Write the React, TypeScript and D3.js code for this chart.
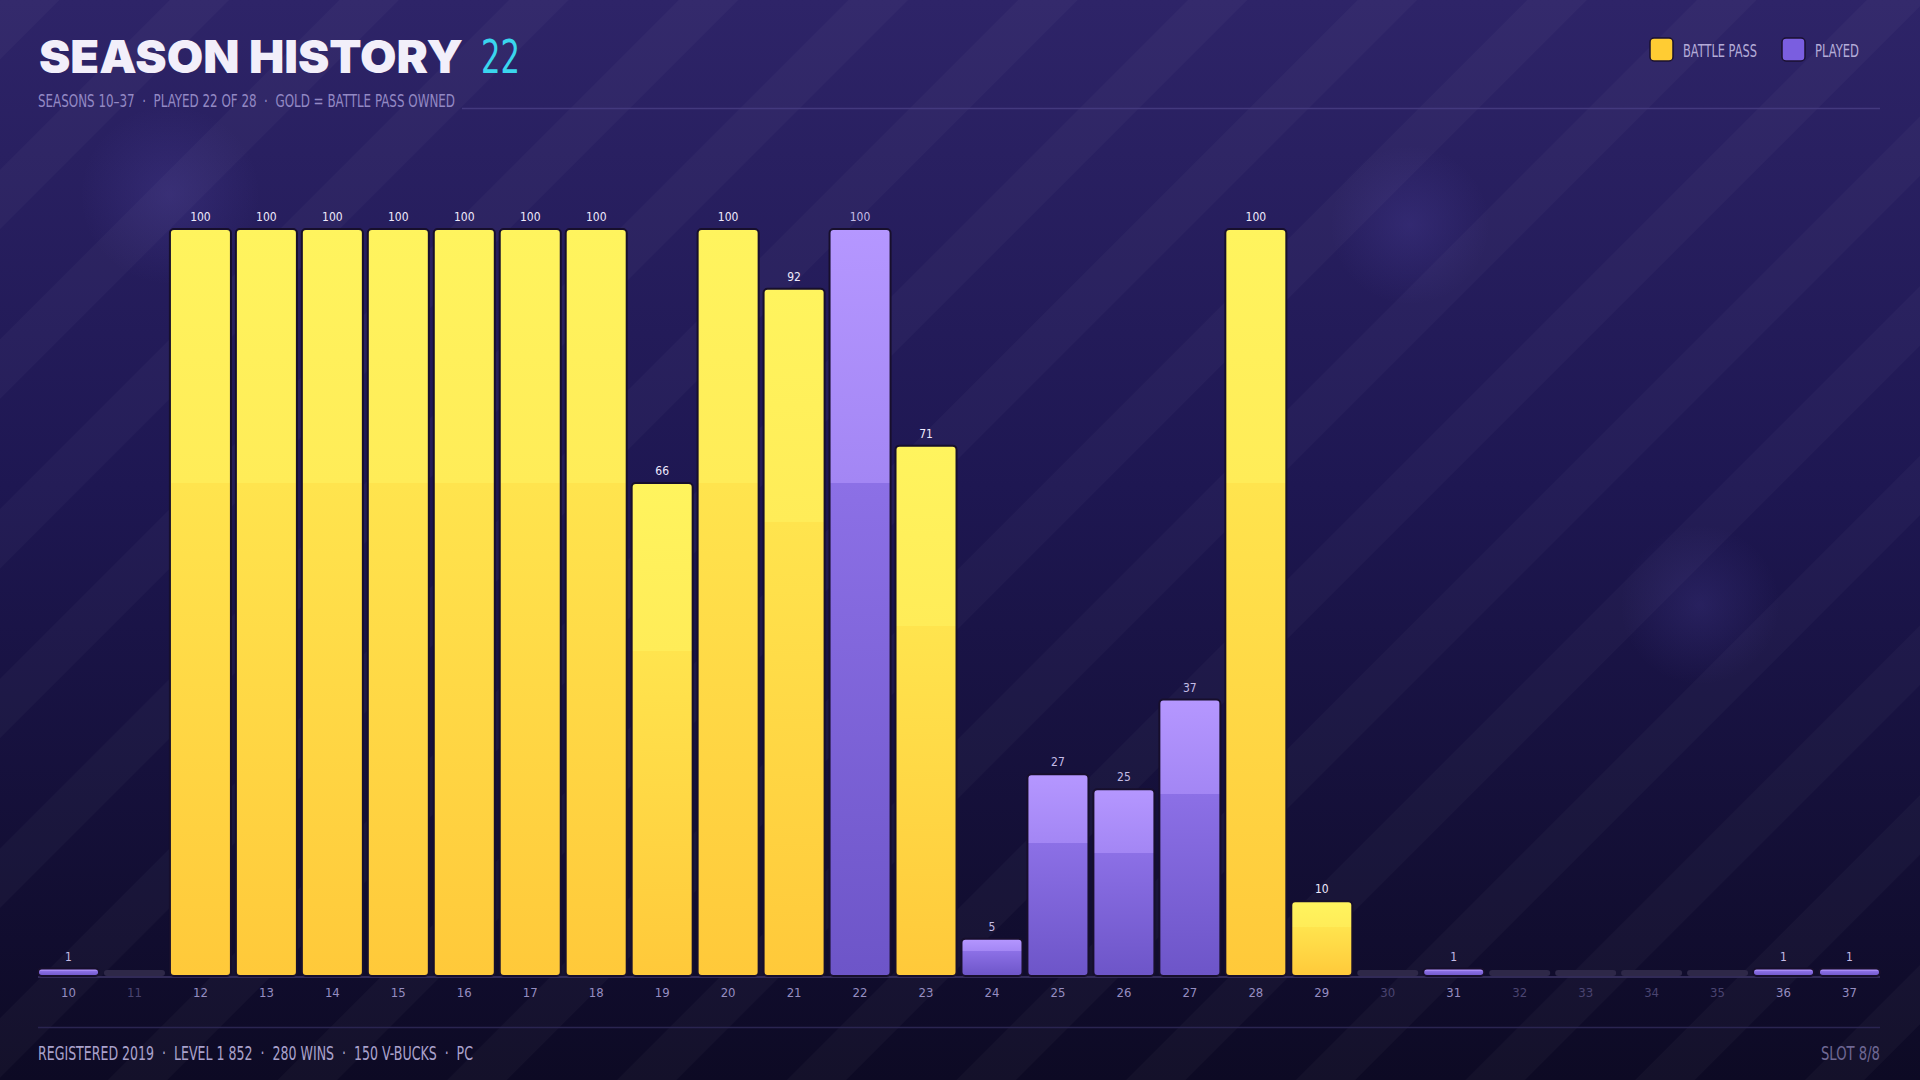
import React from "react";
import * as d3 from "d3";

// season numbers shown on the x axis
const seasons = [
  "10", "11", "12", "13", "14", "15", "16", "17", "18", "19",
  "20", "21", "22", "23", "24", "25", "26", "27", "28", "29",
  "30", "31", "32", "33", "34", "35", "36", "37",
];

// season level reached (0 = not played)
const levels = [
  1, 0, 100, 100, 100, 100, 100, 100, 100, 66,
  100, 92, 100, 71, 5, 27, 25, 37, 100, 10,
  0, 1, 0, 0, 0, 0, 1, 1,
];

// seasons where the battle pass was owned
const battlePassSeasons = ["12", "13", "14", "15", "16", "17", "18", "19", "20", "21", "23", "28", "29"];

const legendItems = [
  { label: "BATTLE PASS", key: "pass" },
  { label: "PLAYED", key: "played" },
];

const W = 1920;
const H = 1080;
const condensed = "'Liberation Sans Narrow', 'DejaVu Sans Condensed', 'Roboto Condensed', sans-serif";

const App: React.FC = () => {
  const x = d3.scaleBand<string>().domain(seasons).range([38, 1880]).paddingInner(0.075).paddingOuter(0);
  const y = d3.scaleLinear().domain([0, 100]).range([976, 229]);
  const base = y(0);

  const data = seasons.map((s, i) => ({
    season: s,
    value: levels[i],
    pass: battlePassSeasons.includes(s),
  }));

  // legend positions and label widths measured off the layout
  const legendX = [1650, 1782];
  const legendW = [74, 44];

  return (
    <svg width={W} height={H} style={{ display: "block", position: "absolute", left: 0, top: 0 }}>
      <defs>
        <linearGradient id="bg" x1="0" y1="0" x2="0" y2="1">
          <stop offset="0" stopColor="#2e2468" />
          <stop offset="0.45" stopColor="#1e1752" />
          <stop offset="1" stopColor="#0d0a24" />
        </linearGradient>
        <pattern id="stripes" width="120" height="120" patternUnits="userSpaceOnUse" patternTransform="rotate(45)">
          <rect x="0" y="0" width="42" height="120" fill="#ffffff" opacity="0.028" />
        </pattern>
        <radialGradient id="bokeh">
          <stop offset="0" stopColor="#8a7cff" stopOpacity="0.12" />
          <stop offset="1" stopColor="#8a7cff" stopOpacity="0" />
        </radialGradient>
        <linearGradient id="gold" x1="0" y1="0" x2="0" y2="1">
          <stop offset="0" stopColor="#fff45e" />
          <stop offset="0.34" stopColor="#ffec58" />
          <stop offset="0.34" stopColor="#ffe44e" />
          <stop offset="1" stopColor="#ffc93a" />
        </linearGradient>
        <linearGradient id="purple" x1="0" y1="0" x2="0" y2="1">
          <stop offset="0" stopColor="#b597ff" />
          <stop offset="0.34" stopColor="#a386f4" />
          <stop offset="0.34" stopColor="#8c70e6" />
          <stop offset="1" stopColor="#6d55c8" />
        </linearGradient>
      </defs>

      {/* background */}
      <rect width={W} height={H} fill="url(#bg)" />
      <rect width={W} height={H} fill="url(#stripes)" />
      <circle cx={170} cy={195} r={90} fill="url(#bokeh)" />
      <circle cx={1410} cy={225} r={80} fill="url(#bokeh)" />
      <circle cx={1700} cy={605} r={80} fill="url(#bokeh)" />

      {/* header */}
      <text x={39} y={73} fill="#f2effa" fontFamily="Inter, Lato, sans-serif" fontWeight={900} fontSize={46}
        textLength={424} lengthAdjust="spacingAndGlyphs">
        SEASON HISTORY
      </text>
      <text x={481} y={73} fill="#3ad6ee" fontFamily={condensed} fontSize={46} textLength={39} lengthAdjust="spacingAndGlyphs">
        22
      </text>
      <text x={38} y={107} fill="#9389c4" fontFamily={condensed} fontSize={18} textLength={417}
        lengthAdjust="spacingAndGlyphs" style={{ whiteSpace: "pre" }}>
        {"SEASONS 10–37  ·  PLAYED 22 OF 28  ·  GOLD = BATTLE PASS OWNED"}
      </text>
      <line x1={462} x2={1880} y1={108.5} y2={108.5} stroke="#43397e" strokeWidth={1.5} />

      {/* legend */}
      {legendItems.map((d, i) => (
        <g key={d.key}>
          <rect x={legendX[i]} y={38} width={23} height={23} rx={4}
            fill={d.key === "pass" ? "#ffcc33" : "#7a5ee0"} stroke="#1a1030" strokeWidth={1.5} />
          <text x={legendX[i] + 33} y={57} fill="#b4acd8" fontFamily={condensed} fontSize={18}
            textLength={legendW[i]} lengthAdjust="spacingAndGlyphs">
            {d.label}
          </text>
        </g>
      ))}

      {/* axis baseline */}
      <line x1={38} x2={1880} y1={base + 1} y2={base + 1} stroke="#3c3466" strokeWidth={1.5} />

      {/* bars */}
      {data.map((d) => {
        const bx = x(d.season) as number;
        const bw = x.bandwidth();
        const cx = bx + bw / 2;
        if (d.value === 0) {
          return (
            <g key={d.season}>
              <rect x={bx} y={base - 6} width={bw} height={6} rx={3} fill="#2e2848" />
              <text x={cx} y={997} textAnchor="middle" fill="#4a4470" fontFamily={condensed} fontSize={13}>
                {d.season}
              </text>
            </g>
          );
        }
        const top = y(d.value);
        const h = base - top;
        return (
          <g key={d.season}>
            <rect x={bx} y={top} width={bw} height={h} rx={Math.min(4, h / 2)}
              fill={d.pass ? "url(#gold)" : "url(#purple)"} stroke="#170f2c" strokeWidth={2} />
            <text x={cx} y={top - 8} textAnchor="middle"
              fill={d.pass ? "#eeeafc" : "#c4bce6"} fontFamily={condensed} fontSize={12}>
              {d.value}
            </text>
            <text x={cx} y={997} textAnchor="middle" fill="#958dc0" fontFamily={condensed} fontSize={13}>
              {d.season}
            </text>
          </g>
        );
      })}

      {/* footer */}
      <line x1={38} x2={1880} y1={1027.5} y2={1027.5} stroke="#2a2450" strokeWidth={1.5} />
      <text x={38} y={1060} fill="#aaa2cc" fontFamily={condensed} fontSize={19} textLength={435}
        lengthAdjust="spacingAndGlyphs" style={{ whiteSpace: "pre" }}>
        {"REGISTERED 2019  ·  LEVEL 1 852  ·  280 WINS  ·  150 V-BUCKS  ·  PC"}
      </text>
      <text x={1880} y={1060} textAnchor="end" fill="#6f6894" fontFamily={condensed} fontSize={19}
        textLength={59} lengthAdjust="spacingAndGlyphs">
        SLOT 8/8
      </text>
    </svg>
  );
};

export default App;
